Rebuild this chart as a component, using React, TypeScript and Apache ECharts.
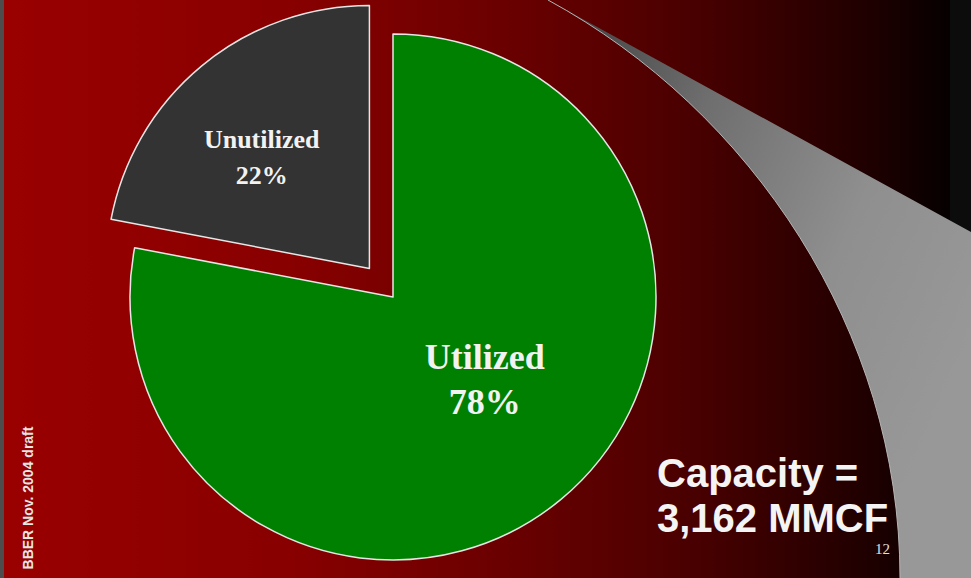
import React, { useEffect, useRef } from "react";
import * as echarts from "echarts";

const categories = ["Utilized", "Unutilized"];
const shares = [78, 22];
const sliceColors = ["#008000", "#333333"];
const capacityLines = ["Capacity =", "3,162 MMCF"];
const slideNumber = "12";
const footnote = "BBER Nov. 2004 draft";

const SWOOSH_D = "M548 0 L971 232 L971 578 L900 578 C900 330 750 110 548 0 Z";
echarts.graphic.registerShape("swoosh", echarts.graphic.extendPath(SWOOSH_D, {}));

export default function App() {
  const ref = useRef<HTMLDivElement>(null);
  useEffect(() => {
    if (!ref.current) return;
    const chart = echarts.init(ref.current, undefined, { renderer: "svg" });
    const data = categories.map((name, i) => ({
      name,
      value: shares[i],
      selected: i === 1,
      itemStyle: { color: sliceColors[i] },
      label:
        i === 0
          ? { fontSize: 36, lineHeight: 45 }
          : { fontSize: 26, lineHeight: 36 },
    }));
    chart.setOption({
      animation: false,
      backgroundColor: {
        type: "linear",
        x: 0,
        y: 0,
        x2: 1,
        y2: 0,
        colorStops: [
          { offset: 0, color: "#9a0000" },
          { offset: 0.3, color: "#880000" },
          { offset: 0.55, color: "#660000" },
          { offset: 0.72, color: "#480000" },
          { offset: 0.9, color: "#1e0000" },
          { offset: 0.97, color: "#080000" },
          { offset: 1, color: "#050000" },
        ],
      },
      graphic: [
        { type: "rect", z: -10, shape: { x: 0, y: 0, width: 4, height: 578 }, style: { fill: "#4d4d4d" } },
        { type: "rect", z: -10, shape: { x: 950, y: 0, width: 21, height: 578 }, style: { fill: "#0c0c0c" } },
        {
          type: "swoosh",
          z: -5,
          x: 0,
          y: 0,
          style: {
            fill: new echarts.graphic.LinearGradient(0, 0, 1, 0.6, [
              { offset: 0, color: "#3a3a3a" },
              { offset: 0.35, color: "#6e6e6e" },
              { offset: 0.7, color: "#8f8f8f" },
              { offset: 1, color: "#989898" },
            ]),
          },
        },
        {
          type: "bezierCurve",
          z: -4,
          shape: { x1: 548, y1: 0, cpx1: 750, cpy1: 110, cpx2: 900, cpy2: 330, x2: 900, y2: 578 },
          style: { stroke: "#b5b5b5", lineWidth: 1, fill: null },
        },
        {
          type: "text",
          x: 657,
          y: 450,
          style: {
            text: capacityLines.join("\n"),
            font: "bold 40px 'Liberation Sans', Arial, sans-serif",
            fill: "#f4f4f4",
            lineHeight: 45,
            align: "left",
            verticalAlign: "top",
          },
        },
        {
          type: "text",
          x: 875,
          y: 549,
          style: {
            text: slideNumber,
            font: "15px 'Liberation Serif', 'Times New Roman', serif",
            fill: "#e0e0e0",
            align: "left",
            verticalAlign: "middle",
          },
        },
        {
          type: "text",
          x: 28,
          y: 498,
          rotation: Math.PI / 2,
          style: {
            text: footnote,
            font: "bold 14px 'Liberation Sans', Arial, sans-serif",
            fill: "#e6e6e6",
            align: "center",
            verticalAlign: "middle",
          },
        },
      ],
      series: [
        {
          type: "pie",
          center: [393, 297],
          radius: 263,
          startAngle: 90,
          clockwise: true,
          selectedMode: "single",
          selectedOffset: 37,
          avoidLabelOverlap: false,
          silent: true,
          itemStyle: { borderColor: "#e6e6e6", borderWidth: 1.5 },
          label: {
            show: true,
            position: "inside",
            formatter: (p: any) => `${p.name}\n${p.value}%`,
            fontFamily: "'Liberation Serif', 'Times New Roman', serif",
            fontWeight: "bold",
            color: "#f2f2f2",
          },
          labelLine: { show: false },
          labelLayout: (p: any) =>
            p.dataIndex === 0 ? { dx: 6, dy: -21 } : { dx: -22, dy: -7 },
          emphasis: { disabled: true },
          data,
        },
      ],
    });
    return () => chart.dispose();
  }, []);
  return (
    <div
      ref={ref}
      style={{ position: "fixed", left: 0, top: 0, width: 971, height: 578 }}
    />
  );
}
